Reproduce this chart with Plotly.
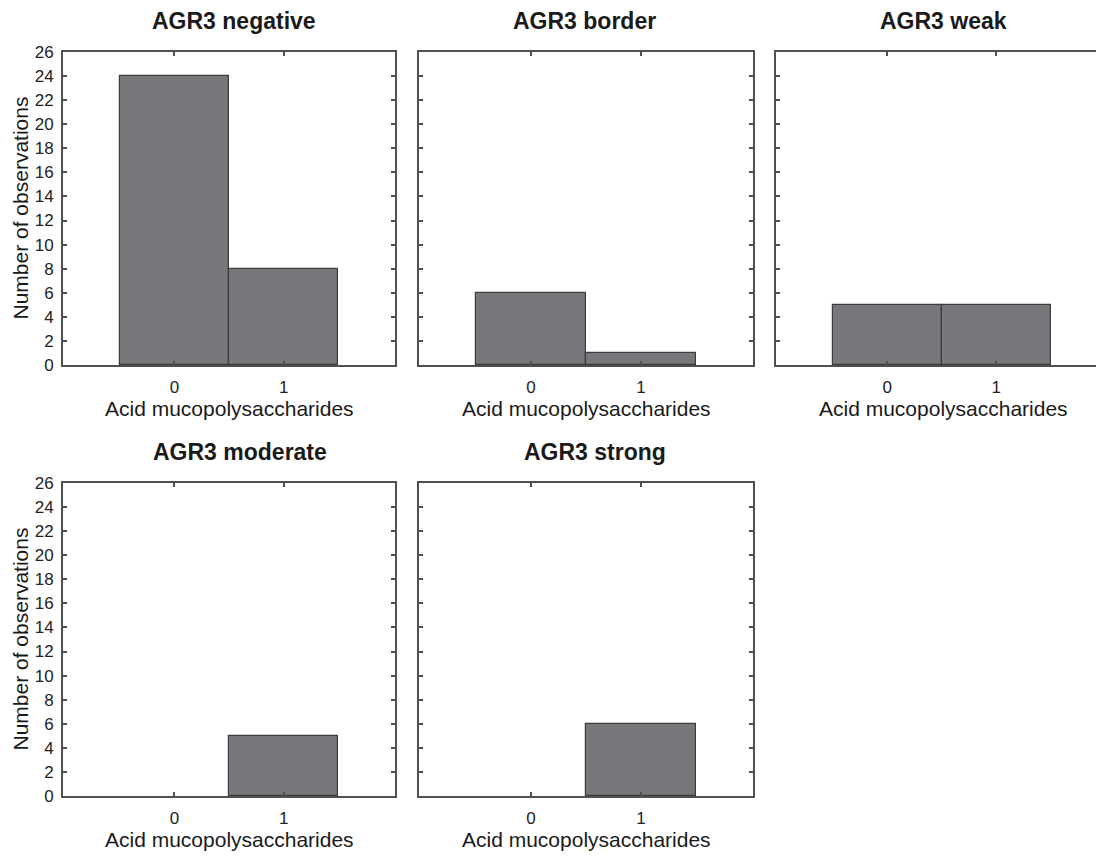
import plotly.graph_objects as go

# the page body adds an 8px offset; work in page pixels and convert
OFF = 8
W, H = 1104 - OFF, 857 - OFF

panel_titles = ["AGR3 negative", "AGR3 border", "AGR3 weak", "AGR3 moderate", "AGR3 strong"]
categories = [0, 1]
counts_negative = [24, 8]
counts_border = [6, 1]
counts_weak = [5, 5]
counts_moderate = [0, 5]
counts_strong = [0, 6]
y_ticks = list(range(0, 27, 2))
x_title = "Acid mucopolysaccharides"
y_title = "Number of observations"

series = [counts_negative, counts_border, counts_weak, counts_moderate, counts_strong]

# page-pixel layout: (left, right, top, bottom)
boxes = [
    (63, 395, 52, 365),
    (419, 753, 52, 365),
    (776, 1104, 52, 365),
    (63, 395, 483, 796),
    (419, 753, 483, 796),
]
title_dx = [5, -2, 0, 11, 9]
xranges = [[-1.02, 2.02], [-1.02, 2.02], [-1.02, 1.99], [-1.02, 2.02], [-1.02, 2.02]]


def px(p):
    return (p - OFF) / W


def py(p):
    return 1 - (p - OFF) / H


FONT = "Liberation Sans, Arial, Helvetica, sans-serif"
AX = "#505050"

tick_common = dict(ticks="inside", ticklen=4, tickwidth=1.5, tickcolor=AX,
                   showgrid=False, zeroline=False, fixedrange=True,
                   tickfont=dict(family=FONT, size=17, color="#222"))

fig = go.Figure()
annotations = []
for i, (vals, title, box) in enumerate(zip(series, panel_titles, boxes)):
    l, r, t, b = box
    n = "" if i == 0 else str(i + 1)
    fig.add_trace(go.Bar(
        x=categories, y=vals, width=1.0,
        marker=dict(color="#77787c",
                    line=dict(color="#3c3c3c", width=[1.2 if v > 0 else 0 for v in vals])),
        xaxis="x" + n, yaxis="y" + n, showlegend=False,
    ))
    first_col = i in (0, 3)
    cut_right = (i == 2)
    fig.update_layout(**{
        "xaxis" + n: dict(
            domain=[px(l), min(px(r), 1.0)], anchor="y" + n, range=xranges[i], automargin=False,
            tickmode="array", tickvals=categories, ticktext=[str(c) for c in categories],
            showline=True, linecolor=AX, linewidth=2, mirror="ticks",
            ticklabelstandoff=6, **tick_common,
        ),
        "yaxis" + n: dict(
            domain=[py(b), py(t)], anchor="x" + n, range=[0, 26], automargin=False,
            tickmode="array", tickvals=y_ticks,
            showline=True, linecolor=AX, linewidth=2,
            mirror=False if cut_right else "ticks",
            showticklabels=first_col, ticklabelstandoff=4, **tick_common,
        ),
    })
    cx = px((l + (1110 if i == 2 else r)) / 2 + title_dx[i])
    annotations.append(dict(
        text="<b>" + title + "</b>", x=cx, y=py(t - 31), xref="paper", yref="paper",
        xanchor="center", yanchor="middle", showarrow=False,
        font=dict(family=FONT, size=23, color="#1a1a1a"),
    ))
    annotations.append(dict(
        text=x_title, x=px((l + (1110 if i == 2 else r)) / 2), y=py(b + 43),
        xref="paper", yref="paper",
        xanchor="center", yanchor="middle", showarrow=False,
        font=dict(family=FONT, size=21, color="#1a1a1a"),
    ))
    if first_col:
        annotations.append(dict(
            text=y_title, x=px(20), y=py((t + b) / 2), xref="paper", yref="paper",
            xanchor="center", yanchor="middle", showarrow=False, textangle=-90,
            font=dict(family=FONT, size=21, color="#1a1a1a"),
        ))

# right-side ticks of the third panel, whose right frame line falls outside the picture
fig.add_trace(go.Scatter(x=[], y=[], xaxis="x3", yaxis="y6", showlegend=False, hoverinfo="skip"))
fig.update_layout(yaxis6=dict(
    overlaying="y3", side="right", anchor="x3", range=[0, 26], automargin=False,
    tickmode="array", tickvals=y_ticks, showline=False, showticklabels=False,
    **tick_common,
))

fig.update_layout(
    width=W, height=H, margin=dict(l=0, r=0, t=0, b=0, autoexpand=False),
    paper_bgcolor="white", plot_bgcolor="white",
    bargap=0, annotations=annotations,
)

fig.write_html("out.html", config={"displayModeBar": False})
